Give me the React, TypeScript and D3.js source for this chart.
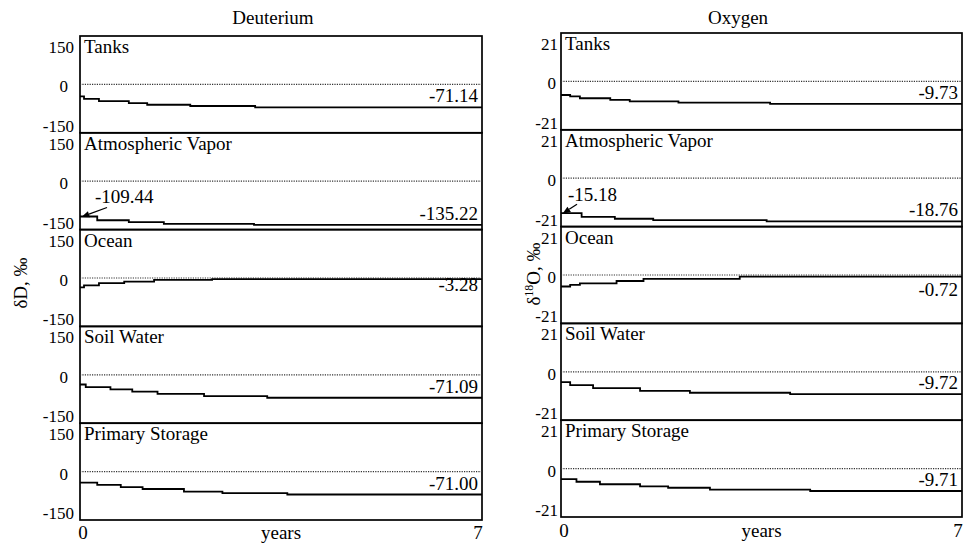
import React from "react";
import * as d3 from "d3";

// ---------- data ----------
const panelNames = ["Tanks", "Atmospheric Vapor", "Ocean", "Soil Water", "Primary Storage"];
const yearsDomain = [0, 7];
const xTickLabels = ["0", "years", "7"];

// Deuterium (‰), step breakpoints: times (years) and values
const dTanksT = [0, 0.07, 0.33, 0.85, 1.17, 1.92, 3.05];
const dTanksV = [-37, -45, -52, -58, -63, -67, -71.14];
const dAtmT = [0, 0.3, 0.85, 1.46, 3.03];
const dAtmV = [-109.44, -121, -127, -132, -135.22];
const dOceanT = [0, 0.07, 0.33, 0.77, 1.29, 2.3];
const dOceanV = [-29, -23, -16, -11, -6, -3.28];
const dSoilT = [0, 0.1, 0.53, 0.91, 1.35, 2.16, 3.26];
const dSoilV = [-30, -38, -45, -52, -59, -66, -71.09];
const dPrimT = [0, 0.3, 0.71, 1.09, 1.81, 2.48, 3.61];
const dPrimV = [-34, -41, -48, -54, -62, -67, -71.0];
const dEndLabels = ["-71.14", "-135.22", "-3.28", "-71.09", "-71.00"];
const dStartLabel = "-109.44";
const dRange = 150;

// Oxygen-18 (‰)
const oTanksT = [0, 0.16, 0.33, 0.86, 1.2, 2.05, 3.65];
const oTanksV = [-5.9, -6.5, -7.3, -8.0, -8.7, -9.2, -9.73];
const oAtmT = [0, 0.36, 0.94, 1.61, 3.59];
const oAtmV = [-15.18, -16.8, -17.6, -18.2, -18.76];
const oOceanT = [0, 0.16, 0.33, 0.97, 1.44, 3.12];
const oOceanV = [-5.0, -4.3, -3.6, -2.6, -1.7, -0.72];
const oSoilT = [0, 0.16, 0.56, 1.38, 2.25, 4.0];
const oSoilV = [-4.5, -5.8, -7.1, -8.3, -9.1, -9.72];
const oPrimT = [0, 0.27, 0.68, 1.38, 1.87, 2.6, 4.35];
const oPrimV = [-4.6, -5.7, -6.8, -7.7, -8.3, -9.1, -9.71];
const oEndLabels = ["-9.73", "-18.76", "-0.72", "-9.72", "-9.71"];
const oStartLabel = "-15.18";
const oRange = 21;

// ---------- layout ----------
const FONT = "Liberation Serif, Times New Roman, serif";
const FS = 19;
const TFS = 17;

type Col = {
  title: string;
  titleX: number;
  x0: number;
  x1: number;
  top: number;
  bottom: number;
  range: number;
  times: number[][];
  values: number[][];
  endLabels: string[];
  startLabel: string;
  oceanDy: number;
  startTextDx: number;
  startTextDy: number;
  arrowDx: number;
  tickX: number;
  zeroTickX: number;
  yLabelX: number;
  yLabelY: number;
  yLabel: "D" | "O";
  xLabelY: number;
};

const cols: Col[] = [
  {
    title: "Deuterium",
    titleX: 273,
    x0: 80,
    x1: 482,
    top: 36,
    bottom: 520,
    range: dRange,
    times: [dTanksT, dAtmT, dOceanT, dSoilT, dPrimT],
    values: [dTanksV, dAtmV, dOceanV, dSoilV, dPrimV],
    endLabels: dEndLabels,
    startLabel: dStartLabel,
    oceanDy: 12,
    startTextDx: 15,
    startTextDy: -14,
    arrowDx: 27,
    tickX: 74,
    zeroTickX: 68,
    yLabelX: 27,
    yLabelY: 283,
    yLabel: "D",
    xLabelY: 539,
  },
  {
    title: "Oxygen",
    titleX: 738,
    x0: 561,
    x1: 962,
    top: 33,
    bottom: 517,
    range: oRange,
    times: [oTanksT, oAtmT, oOceanT, oSoilT, oPrimT],
    values: [oTanksV, oAtmV, oOceanV, oSoilV, oPrimV],
    endLabels: oEndLabels,
    startLabel: oStartLabel,
    oceanDy: 19,
    startTextDx: 7,
    startTextDy: -12,
    arrowDx: 16,
    tickX: 558,
    zeroTickX: 556,
    yLabelX: 540,
    yLabelY: 274,
    yLabel: "O",
    xLabelY: 537,
  },
];

function Column({ c }: { c: Col }) {
  const x = d3.scaleLinear().domain(yearsDomain).range([c.x0, c.x1]);
  const h = (c.bottom - c.top) / panelNames.length;
  const elems: React.ReactNode[] = [];

  panelNames.forEach((name, i) => {
    const pTop = c.top + i * h;
    const pBot = pTop + h;
    const y = d3.scaleLinear().domain([-c.range, c.range]).range([pBot, pTop]);
    const t = c.times[i];
    const v = c.values[i];
    const pts: [number, number][] = t.map((ti, k) => [ti, v[k]] as [number, number]);
    pts.push([yearsDomain[1], v[v.length - 1]]);
    const line = d3
      .line<[number, number]>()
      .x((d) => x(d[0]))
      .y((d) => y(d[1]))
      .curve(d3.curveStepAfter);
    const last = v[v.length - 1];
    const isOcean = i === 2;
    const endY = isOcean ? y(last) + c.oceanDy : y(last) - 5;

    elems.push(
      <g key={name}>
        <rect
          x={c.x0}
          y={pTop}
          width={c.x1 - c.x0}
          height={h}
          fill="none"
          stroke="#000"
          strokeWidth={1.7}
        />
        <line
          x1={c.x0}
          x2={c.x1}
          y1={y(0)}
          y2={y(0)}
          stroke="#333"
          strokeWidth={1.2}
          strokeDasharray="1.2,1.2"
        />
        <path d={line(pts) || ""} fill="none" stroke="#000" strokeWidth={1.8} />
        <text x={c.x0 + 4} y={pTop + 17} fontSize={FS}>
          {name}
        </text>
        <text x={c.tickX} y={pTop + 17} fontSize={TFS} textAnchor="end">
          {String(c.range)}
        </text>
        <text x={c.zeroTickX} y={y(0) + 8} fontSize={TFS} textAnchor="end">
          0
        </text>
        <text x={c.tickX} y={pBot - 1} fontSize={TFS} textAnchor="end">
          {String(-c.range)}
        </text>
        <text x={c.x1 - 4} y={endY} fontSize={FS} textAnchor="end">
          {c.endLabels[i]}
        </text>
      </g>
    );

    if (i === 1) {
      const y0 = y(v[0]);
      const x0 = x(0);
      const ax1 = x0 + c.arrowDx;
      const ay1 = y0 - 9;
      const ax2 = x0 + 1.5;
      const ay2 = y0 + 0.5;
      const ang = Math.atan2(ay2 - ay1, ax2 - ax1);
      const len = 8;
      const wid = 3.2;
      const bx = ax2 - len * Math.cos(ang);
      const by = ay2 - len * Math.sin(ang);
      const px = -Math.sin(ang) * wid;
      const py = Math.cos(ang) * wid;
      elems.push(
        <g key="ann">
          <text x={x0 + c.startTextDx} y={y0 + c.startTextDy} fontSize={FS}>
            {c.startLabel}
          </text>
          <line x1={ax1} y1={ay1} x2={bx} y2={by} stroke="#000" strokeWidth={1.3} />
          <polygon
            points={`${ax2},${ay2} ${bx + px},${by + py} ${bx - px},${by - py}`}
            fill="#000"
          />
        </g>
      );
    }
  });

  return (
    <g style={{ fontFamily: FONT }} fill="#000">
      <text x={c.titleX} y={24} fontSize={FS} textAnchor="middle">
        {c.title}
      </text>
      {elems}
      <text x={c.x0 + 3} y={c.xLabelY} fontSize={FS} textAnchor="middle">
        {xTickLabels[0]}
      </text>
      <text x={(c.x0 + c.x1) / 2} y={c.xLabelY} fontSize={FS} textAnchor="middle">
        {xTickLabels[1]}
      </text>
      <text x={c.x1 - 4} y={c.xLabelY} fontSize={FS} textAnchor="middle">
        {xTickLabels[2]}
      </text>
      <text
        transform={`translate(${c.yLabelX},${c.yLabelY}) rotate(-90)`}
        fontSize={FS}
        textAnchor="middle"
      >
        {c.yLabel === "D" ? (
          "δD, ‰"
        ) : (
          <>
            δ<tspan fontSize={12} dy={-7}>18</tspan>
            <tspan dy={7}>O, ‰</tspan>
          </>
        )}
      </text>
    </g>
  );
}

export default function App() {
  return (
    <svg
      width={966}
      height={544}
      style={{ position: "absolute", left: 0, top: 0, background: "#fff", fontFamily: FONT }}
    >
      <rect width={966} height={544} fill="#fff" />
      {cols.map((c) => (
        <Column key={c.title} c={c} />
      ))}
    </svg>
  );
}
